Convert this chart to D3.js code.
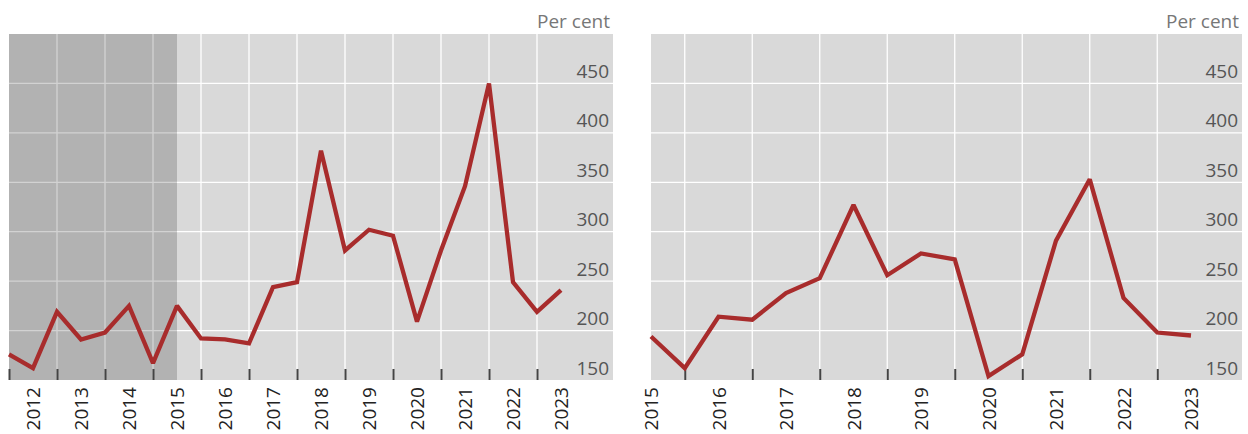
<!DOCTYPE html>
<html>
<head>
<meta charset="utf-8">
<script src="https://cdn.jsdelivr.net/npm/d3@7"></script>
<style>
  html, body { margin: 0; padding: 0; background: #fff; }
  svg { display: block; font-family: "Open Sans", "Noto Sans", sans-serif; }
</style>
</head>
<body>
<svg id="chart" width="1248" height="434"></svg>
<script>
// Semi-annual observations, per cent
const leftPeriods = [2011.5, 2012, 2012.5, 2013, 2013.5, 2014, 2014.5, 2015, 2015.5, 2016, 2016.5, 2017,
                     2017.5, 2018, 2018.5, 2019, 2019.5, 2020, 2020.5, 2021, 2021.5, 2022, 2022.5, 2023];
const leftValues  = [176, 162, 219, 191, 198, 225, 167, 225, 192, 191, 187, 244,
                     249, 382, 281, 302, 296, 209, 281, 346, 450, 249, 219, 241];

const rightPeriods = [2015, 2015.5, 2016, 2016.5, 2017, 2017.5, 2018, 2018.5, 2019, 2019.5,
                      2020, 2020.5, 2021, 2021.5, 2022, 2022.5, 2023];
const rightValues  = [194, 162, 214, 211, 238, 253, 327, 256, 278, 272,
                      154, 176, 291, 353, 233, 198, 195];

const leftYearLabels  = [2012, 2013, 2014, 2015, 2016, 2017, 2018, 2019, 2020, 2021, 2022, 2023];
const rightYearLabels = [2015, 2016, 2017, 2018, 2019, 2020, 2021, 2022, 2023];
const leftTickMarks   = [2011.5, 2012.5, 2013.5, 2014.5, 2015.5, 2016.5, 2017.5, 2018.5, 2019.5, 2020.5, 2021.5, 2022.5];
const rightTickMarks  = [2015.5, 2016.5, 2017.5, 2018.5, 2019.5, 2020.5, 2021.5, 2022.5];
const yTickValues     = [150, 200, 250, 300, 350, 400, 450];
const shadedSpan      = [2011.5, 2015];
const unitLabel       = "Per cent";

const svg = d3.select("#chart");
const plotTop = 34, plotBottom = 380;
const y = d3.scaleLinear().domain([150, 500]).range([plotBottom, plotTop]);

function panel(opts) {
  const { x0, x1, domain, periods, values, labels, ticks, shade } = opts;
  const x = d3.scaleLinear().domain(domain).range([x0, x1]);
  const g = svg.append("g");

  g.append("rect")
    .attr("x", x0).attr("y", plotTop)
    .attr("width", x1 - x0).attr("height", plotBottom - plotTop)
    .attr("fill", "#d9d9d9");

  // grid
  g.append("g").selectAll("line")
    .data(yTickValues.filter(v => v > 150))
    .join("line")
    .attr("x1", x0).attr("x2", x1)
    .attr("y1", d => y(d)).attr("y2", d => y(d))
    .attr("stroke", "#fff").attr("stroke-width", 1.3);

  g.append("g").selectAll("line")
    .data(ticks.filter(t => x(t) > x0 + 1))
    .join("line")
    .attr("x1", d => x(d)).attr("x2", d => x(d))
    .attr("y1", plotTop).attr("y2", plotBottom)
    .attr("stroke", "#fff").attr("stroke-width", 1.3);

  if (shade) {
    g.append("rect")
      .attr("x", x(shade[0])).attr("y", plotTop)
      .attr("width", x(shade[1]) - x(shade[0]))
      .attr("height", plotBottom - plotTop)
      .attr("fill", "#000").attr("fill-opacity", 0.175);
  }

  // tick marks along the bottom
  const tickAxis = g.append("g")
    .attr("transform", `translate(0,${plotBottom})`)
    .call(d3.axisBottom(x).tickValues(ticks).tickSize(-11).tickFormat(""));
  tickAxis.select(".domain").remove();
  tickAxis.selectAll(".tick line").attr("stroke", "#444").attr("stroke-width", 2);

  // year labels
  const xAxis = g.append("g")
    .attr("transform", `translate(0,${plotBottom})`)
    .call(d3.axisBottom(x).tickValues(labels).tickSize(0).tickFormat(d3.format("d")));
  xAxis.select(".domain").remove();
  xAxis.attr("font-size", null).attr("font-family", null);
  xAxis.selectAll(".tick text")
    .attr("transform", "rotate(-90)")
    .attr("text-anchor", "end")
    .attr("x", -7).attr("y", 0).attr("dy", "0.36em")
    .attr("font-size", 19)
    .attr("fill", "#222");

  // value axis
  const yAxis = g.append("g")
    .attr("transform", `translate(${x1 - 4},0)`)
    .call(d3.axisLeft(y).tickValues(yTickValues).tickSize(0).tickPadding(0));
  yAxis.select(".domain").remove();
  yAxis.attr("font-size", null).attr("font-family", null);
  yAxis.selectAll(".tick text")
    .attr("x", 0).attr("y", -6).attr("dy", null)
    .attr("text-anchor", "end")
    .attr("font-size", 19)
    .attr("fill", "#555");

  g.append("text")
    .attr("x", x1 - 3).attr("y", 28)
    .attr("text-anchor", "end")
    .attr("font-size", 19)
    .attr("fill", "#777")
    .text(unitLabel);

  const line = d3.line()
    .x((d, i) => x(periods[i]))
    .y(d => y(d));

  g.append("path")
    .datum(values)
    .attr("d", line)
    .attr("fill", "none")
    .attr("stroke", "#a82c2c")
    .attr("stroke-width", 4.3)
    .attr("stroke-linejoin", "miter")
    .attr("stroke-miterlimit", 2);
}

panel({
  x0: 9, x1: 613,
  domain: [2011.5, 2011.5 + 604 / 48],
  periods: leftPeriods, values: leftValues,
  labels: leftYearLabels, ticks: leftTickMarks, shade: shadedSpan
});

panel({
  x0: 651, x1: 1242,
  domain: [2015, 2015 + 591 / 67.5],
  periods: rightPeriods, values: rightValues,
  labels: rightYearLabels, ticks: rightTickMarks, shade: null
});
</script>
</body>
</html>
